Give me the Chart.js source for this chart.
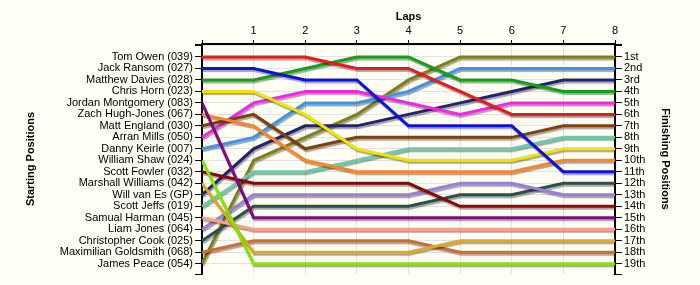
<!DOCTYPE html>
<html>
<head>
<meta charset="utf-8">
<script src="https://cdn.jsdelivr.net/npm/chart.js@4.4.1/dist/chart.umd.min.js"></script>
<style>
  html, body { margin: 0; padding: 0; background: #fefef4; }
  #wrap { width: 700px; height: 285px; }
</style>
</head>
<body>
<div id="wrap"><canvas id="lapChart" width="700" height="285"></canvas></div>
<script>
// laps (0 = grid position)
var laps = [0, 1, 2, 3, 4, 5, 6, 7, 8];

// drivers in starting order
var drivers = ['Tom Owen (039)', 'Jack Ransom (027)', 'Matthew Davies (028)', 'Chris Horn (023)',
    'Jordan Montgomery (083)', 'Zach Hugh-Jones (067)', 'Matt England (030)', 'Arran Mills (050)',
    'Danny Keirle (007)', 'William Shaw (024)', 'Scott Fowler (032)', 'Marshall Williams (042)',
    'Will van Es (GP)', 'Scott Jeffs (019)', 'Samual Harman (045)', 'Liam Jones (064)',
    'Christopher Cook (025)', 'Maximilian Goldsmith (068)', 'James Peace (054)'];

var finishLabels = ['1st', '2nd', '3rd', '4th', '5th', '6th', '7th', '8th', '9th', '10th',
    '11th', '12th', '13th', '14th', '15th', '16th', '17th', '18th', '19th'];

// position of each driver at every lap
var tomOwen = [1, 1, 1, 2, 2, 4, 6, 6, 6];
var jackRansom = [2, 2, 3, 3, 7, 7, 7, 11, 11];
var matthewDavies = [3, 3, 2, 1, 1, 3, 3, 4, 4];
var chrisHorn = [4, 4, 6, 9, 10, 10, 10, 9, 9];
var jordanMontgomery = [5, 15, 15, 15, 15, 15, 15, 15, 15];
var zachHughJones = [6, 7, 10, 11, 11, 11, 11, 10, 10];
var mattEngland = [7, 6, 9, 8, 8, 8, 8, 7, 7];
var arranMills = [8, 5, 4, 4, 5, 6, 5, 5, 5];
var dannyKeirle = [9, 8, 5, 5, 4, 2, 2, 2, 2];
var williamShaw = [10, 19, 19, 19, 19, 19, 19, 19, 19];
var scottFowler = [11, 12, 12, 12, 12, 14, 14, 14, 14];
var marshallWilliams = [12, 18, 18, 18, 18, 17, 17, 17, 17];
var willVanEs = [13, 9, 7, 7, 6, 5, 4, 3, 3];
var scottJeffs = [14, 11, 11, 10, 9, 9, 9, 8, 8];
var samualHarman = [15, 16, 16, 16, 16, 16, 16, 16, 16];
var liamJones = [16, 13, 13, 13, 13, 12, 12, 13, 13];
var christopherCook = [17, 14, 14, 14, 14, 13, 13, 12, 12];
var maxGoldsmith = [18, 17, 17, 17, 17, 18, 18, 18, 18];
var jamesPeace = [19, 10, 8, 6, 3, 1, 1, 1, 1];

var positions = [tomOwen, jackRansom, matthewDavies, chrisHorn, jordanMontgomery, zachHughJones,
    mattEngland, arranMills, dannyKeirle, williamShaw, scottFowler, marshallWilliams, willVanEs,
    scottJeffs, samualHarman, liamJones, christopherCook, maxGoldsmith, jamesPeace];

var lineColours = ['#e31c1c', '#1010dc', '#14a014', '#f2e400', '#800a80', '#ff8422', '#80400c',
    '#ff20f0', '#3797f0', '#80e800', '#880808', '#dcaa24', '#22226e', '#66ccaa', '#ffa080',
    '#9680dc', '#2e4e4a', '#d06c30', '#808010'];

var datasets = [];
for (var d = 0; d < drivers.length; d++) {
    var pts = [];
    for (var l = 0; l < laps.length; l++) {
        pts.push({ x: laps[l], y: positions[d][l] });
    }
    datasets.push({
        label: drivers[d],
        data: pts,
        borderColor: lineColours[d],
        backgroundColor: lineColours[d],
        borderWidth: 3,
        pointRadius: 0,
        tension: 0,
        yAxisID: 'y'
    });
}

// grey drop shadow under each line
var shadowPlugin = {
    id: 'lineShadow',
    beforeDatasetDraw: function (chart) {
        var c = chart.ctx;
        c.save();
        c.shadowColor = 'rgba(0,0,0,0.35)';
        c.shadowOffsetX = 1;
        c.shadowOffsetY = 2;
        c.shadowBlur = 1;
    },
    afterDatasetDraw: function (chart) {
        chart.ctx.restore();
    }
};

// y range is a little off-centre in the original, ends get an unlabeled tick
var yMin = -0.13, yMax = 19.9;

function buildTicks(from, to) {
    return function (scale) {
        var t = [];
        if (from !== Math.round(from)) t.push({ value: from });
        for (var v = Math.ceil(from); v <= to; v++) t.push({ value: v });
        if (to !== Math.round(to)) t.push({ value: to });
        scale.ticks = t;
    };
}

function gridCol(ctx) {
    var v = ctx.tick ? ctx.tick.value : 0;
    return (v === yMin || v === yMax) ? 'rgba(0,0,0,0)' : '#e2e2e2';
}

var tickFont = { family: 'Liberation Sans, Arial, sans-serif', size: 11 };
var titleFont = { family: 'Liberation Sans, Arial, sans-serif', size: 11, weight: 'bold' };

new Chart(document.getElementById('lapChart'), {
    type: 'line',
    data: { datasets: datasets },
    plugins: [shadowPlugin],
    options: {
        responsive: false,
        animation: false,
        layout: { padding: { left: 20, right: 24, top: 6, bottom: 11 } },
        plugins: { legend: { display: false }, tooltip: { enabled: false } },
        scales: {
            x: {
                type: 'linear',
                position: 'top',
                min: 0,
                max: 8,
                afterBuildTicks: buildTicks(0, 8),
                afterFit: function (s) { s.height = 38; },
                ticks: {
                    color: '#000',
                    font: tickFont,
                    padding: 2,
                    callback: function (v) { return v === 0 ? '' : String(v); }
                },
                grid: { color: '#e2e2e2', tickColor: '#000', tickLength: 4 },
                border: { color: '#000', width: 2 },
                title: { display: true, text: 'Laps', color: '#000', font: titleFont }
            },
            y: {
                type: 'linear',
                position: 'left',
                reverse: true,
                min: yMin,
                max: yMax,
                afterBuildTicks: buildTicks(yMin, yMax),
                afterFit: function (s) { s.width = 182; },
                ticks: {
                    color: '#000',
                    font: tickFont,
                    padding: 2,
                    autoSkip: false,
                    callback: function (v) { return drivers[v - 1] || ''; }
                },
                grid: { color: gridCol, tickColor: '#000', tickLength: 7 },
                border: { color: '#000', width: 2 },
                title: { display: true, text: 'Starting Positions', color: '#000', font: titleFont }
            },
            y1: {
                type: 'linear',
                position: 'right',
                reverse: true,
                min: yMin,
                max: yMax,
                afterBuildTicks: buildTicks(yMin, yMax),
                afterFit: function (s) { s.width = 61; },
                ticks: {
                    color: '#000',
                    font: tickFont,
                    padding: 2,
                    autoSkip: false,
                    callback: function (v) { return finishLabels[v - 1] || ''; }
                },
                grid: { drawOnChartArea: false, tickColor: '#000', tickLength: 7 },
                border: { color: '#000', width: 2 },
                title: { display: true, text: 'Finishing Positions', color: '#000', font: titleFont }
            }
        }
    }
});
</script>
</body>
</html>
